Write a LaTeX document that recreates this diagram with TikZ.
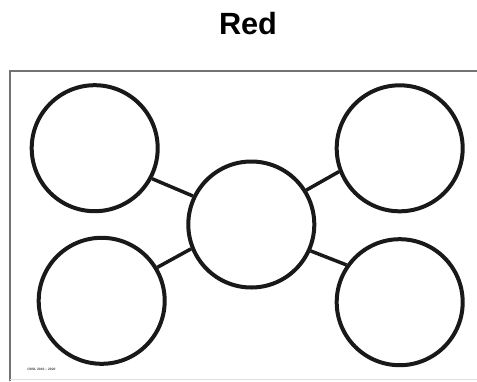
\documentclass[tikz,border=0pt]{standalone}
\usepackage{fontspec}
\setmainfont{Liberation Sans}
\begin{document}
\begin{tikzpicture}[x=1pt,y=-1pt,
  bubble/.style={circle,draw=black!90,line width=4pt,minimum size=126pt,inner sep=0pt},
  link/.style={draw=black!90,line width=3.5pt},
  frameline/.style={draw=black!55,line width=1.4pt}]
\useasboundingbox[fill=white] (0,0) rectangle (477,381);
\node[font=\bfseries\fontsize{30.7}{32}\selectfont,anchor=base] (title) at (248,34.3) {Red};
\draw[frameline] (10,381) -- (10,71) -- (477,71);
\draw[draw=black!12,line width=0.8pt] (10,379.5) -- (477,379.5);
\node[bubble] (tl) at (94.7,148.2) {};
\node[bubble] (tr) at (399.7,148.3) {};
\node[bubble] (c) at (251.3,224.5) {};
\node[bubble] (bl) at (101.7,300.8) {};
\node[bubble] (br) at (399.7,302.2) {};
\draw[link] (tl.-28) -- (c.154);
\draw[link] (bl.31) -- (c.-158);
\draw[link] (c.32) -- (tr.-159);
\draw[link] (c.-24.5) -- (br.145);
\node[font=\bfseries\fontsize{3.3}{3.3}\selectfont,text=black!75,anchor=west,inner sep=0pt] (copy) at (27,369) {©BSL 2010 -- 2020};
\end{tikzpicture}
\end{document}
